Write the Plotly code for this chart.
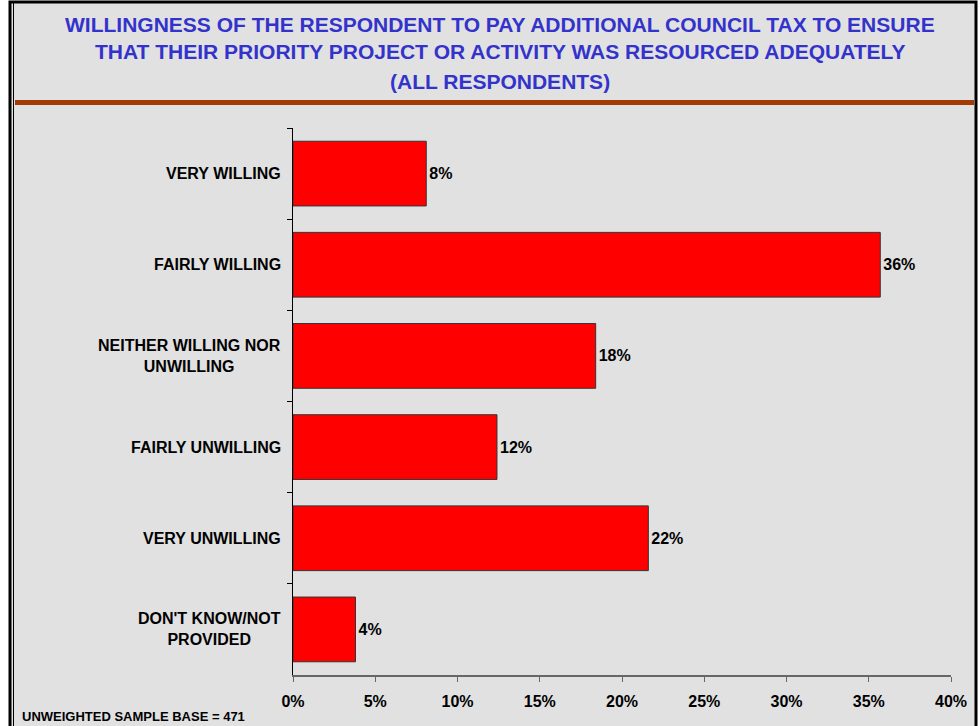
import plotly.graph_objects as go

# Survey responses: willingness to pay additional council tax
categories = [
    "VERY WILLING",
    "FAIRLY WILLING",
    "NEITHER WILLING NOR<br>UNWILLING",
    "FAIRLY UNWILLING",
    "VERY UNWILLING",
    "DON'T KNOW/NOT<br>PROVIDED",
]
percentages = [8.1, 35.7, 18.4, 12.4, 21.6, 3.8]
x_ticks = [0, 5, 10, 15, 20, 25, 30, 35, 40]
x_tick_labels = ["0%", "5%", "10%", "15%", "20%", "25%", "30%", "35%", "40%"]
title_lines = [
    "WILLINGNESS OF THE RESPONDENT TO PAY ADDITIONAL COUNCIL TAX TO ENSURE",
    "THAT THEIR PRIORITY PROJECT OR ACTIVITY WAS RESOURCED ADEQUATELY",
    "(ALL RESPONDENTS)",
]
base_note = "UNWEIGHTED SAMPLE BASE = 471"

W, H = 980, 726
ML, MR, MT, MB = 293, 29, 128, 51
PW, PH = W - ML - MR, H - MT - MB

FONT = "Arial, 'Liberation Sans', sans-serif"


def px_x(px):
    return (px - ML) / PW


def px_y(py):
    return (H - MB - py) / PH


fig = go.Figure(
    go.Bar(
        x=percentages,
        y=categories,
        orientation="h",
        marker=dict(color="#ff0000", line=dict(color="#333333", width=1)),
        text=percentages,
        texttemplate="%{x:.0f}%",
        textposition="outside",
        textfont=dict(family=FONT, size=16, color="#000000", weight="bold"),
        cliponaxis=False,
        hoverinfo="skip",
    )
)

fig.update_layout(
    width=W,
    height=H,
    margin=dict(l=ML, r=MR, t=MT, b=MB),
    paper_bgcolor="#ffffff",
    plot_bgcolor="rgba(0,0,0,0)",
    bargap=0.29,
    showlegend=False,
    font=dict(family=FONT, size=16, color="#000000", weight="bold"),
)

fig.update_xaxes(
    range=[0, 40],
    tickvals=x_ticks,
    ticktext=x_tick_labels,
    showgrid=False,
    zeroline=False,
    showline=True,
    linecolor="#666666",
    linewidth=2,
    ticks="outside",
    ticklen=5,
    tickcolor="#666666",
    tickwidth=1,
    ticklabelstandoff=6,
    tickfont=dict(family=FONT, size=16, color="#000000", weight="bold"),
)

# category labels are drawn as centred annotations, so the axis only
# carries the line and the boundary ticks
fig.update_yaxes(
    autorange="reversed",
    showgrid=False,
    zeroline=False,
    showline=True,
    linecolor="#000000",
    linewidth=1,
    ticks="outside",
    tickson="boundaries",
    ticklen=5,
    tickcolor="#000000",
    showticklabels=False,
)

shapes = [
    # panel background
    dict(type="rect", xref="paper", yref="paper",
         x0=px_x(10), x1=px_x(976), y0=px_y(740), y1=px_y(2),
         fillcolor="#e1e1e1", line=dict(color="#000000", width=3), layer="below"),
    # inner thin frame line on the left
    dict(type="line", xref="paper", yref="paper",
         x0=px_x(13.5), x1=px_x(13.5), y0=px_y(740), y1=px_y(3),
         line=dict(color="#000000", width=1), layer="below"),
    # rule under the title
    dict(type="line", xref="paper", yref="paper",
         x0=px_x(15), x1=px_x(974), y0=px_y(102.5), y1=px_y(102.5),
         line=dict(color="#a33b07", width=5), layer="below"),
]

annotations = []
for cat in categories:
    annotations.append(dict(
        text=cat, xref="paper", yref="y", x=px_x(283), y=cat,
        xanchor="right", yanchor="middle", align="center", showarrow=False,
        font=dict(family=FONT, size=16, color="#000000", weight="bold"),
    ))
for text, py in zip(title_lines, [24, 51, 82]):
    annotations.append(dict(
        text=text, xref="paper", yref="paper", x=px_x(500), y=px_y(py),
        xanchor="center", yanchor="middle", showarrow=False,
        font=dict(family=FONT, size=21, color="#3333cc", weight="bold"),
    ))
annotations.append(dict(
    text=base_note, xref="paper", yref="paper", x=px_x(20), y=px_y(716),
    xanchor="left", yanchor="middle", showarrow=False,
    font=dict(family=FONT, size=13, color="#000000", weight="bold"),
))

fig.update_layout(shapes=shapes, annotations=annotations)

fig.write_html("out.html")
